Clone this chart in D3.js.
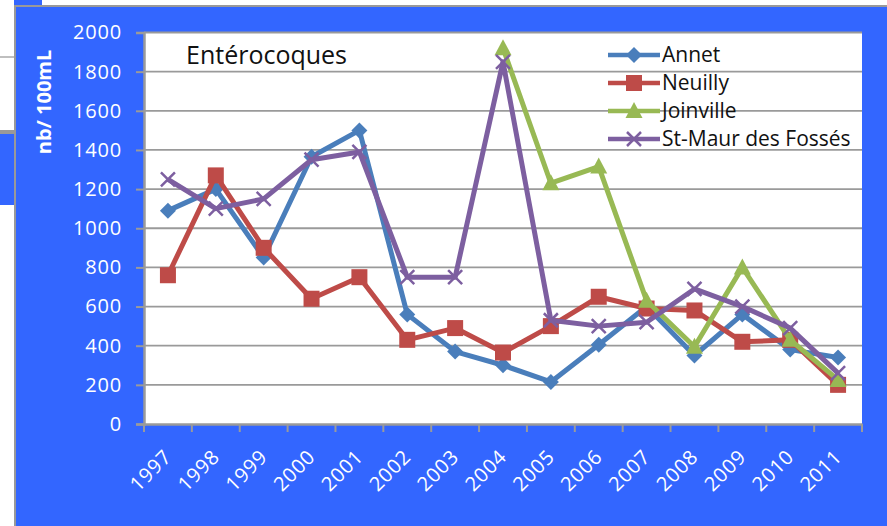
<!DOCTYPE html>
<html>
<head>
<meta charset="utf-8">
<script src="https://cdn.jsdelivr.net/npm/d3@7"></script>
<style>
    body { margin: 0; background: #fff; }
    svg { display: block; }
    text { font-family: "Open Sans", sans-serif; }
</style>
</head>
<body>
<svg id="chart" width="887" height="526"></svg>
<script>
// data
var years = ['1997', '1998', '1999', '2000', '2001', '2002', '2003', '2004',
    '2005', '2006', '2007', '2008', '2009', '2010', '2011'];
var annet = [1090, 1200, 850, 1365, 1500, 560, 370, 300, 215, 405, 600, 350, 560, 380, 340];
var neuilly = [760, 1270, 900, 640, 750, 430, 490, 365, 500, 650, 590, 580, 420, 430, 200];
var joinville = [null, null, null, null, null, null, null, 1920, 1230, 1315, 630, 395, 800, 430, 225];
var stMaur = [1250, 1100, 1150, 1350, 1390, 750, 750, 1850, 530, 500, 520, 690, 600, 490, 260];
var yTicks = [0, 200, 400, 600, 800, 1000, 1200, 1400, 1600, 1800, 2000];

var series = [
    {name: 'Annet', values: annet, color: '#4a7ebb', marker: 'diamond'},
    {name: 'Neuilly', values: neuilly, color: '#be4b48', marker: 'square'},
    {name: 'Joinville', values: joinville, color: '#98b954', marker: 'triangle'},
    {name: 'St-Maur des Fossés', values: stMaur, color: '#7d5fa0', marker: 'cross'}
];

var svg = d3.select('#chart');
var panelBlue = '#3366ff';
var gray = '#9a9a9a';

// bits of the surrounding sheet
svg.append('line').attr('x1', 0).attr('x2', 14).attr('y1', 57).attr('y2', 57)
    .attr('stroke', '#aaa').attr('stroke-width', 1.5);
svg.append('rect').attr('x', 0).attr('y', 130).attr('width', 14).attr('height', 4).attr('fill', '#999');
svg.append('rect').attr('x', 0).attr('y', 134).attr('width', 14).attr('height', 71).attr('fill', panelBlue);
svg.append('rect').attr('x', 14).attr('y', 0).attr('width', 28).attr('height', 6).attr('fill', panelBlue);
svg.append('rect').attr('x', 14).attr('y', 5).attr('width', 873).attr('height', 521).attr('fill', '#999');
svg.append('rect').attr('x', 16).attr('y', 7).attr('width', 871).attr('height', 519).attr('fill', panelBlue);

var plot = {left: 144, right: 862, top: 32.5, bottom: 424};

var x = d3.scaleBand().domain(years).range([plot.left, plot.right]);
var y = d3.scaleLinear().domain([0, 2000]).range([plot.bottom, plot.top]);

svg.append('rect')
    .attr('x', plot.left).attr('y', plot.top)
    .attr('width', plot.right - plot.left).attr('height', plot.bottom - plot.top)
    .attr('fill', '#fff');

// grid
svg.append('g').selectAll('line')
    .data(yTicks.slice(1))
    .join('line')
    .attr('x1', plot.left).attr('x2', plot.right)
    .attr('y1', d => y(d)).attr('y2', d => y(d))
    .attr('stroke', gray).attr('stroke-width', 1.8);

// y axis
var yAxis = d3.axisLeft(y).tickValues(yTicks).tickFormat(d3.format('d')).tickSize(8).tickPadding(14);
var gY = svg.append('g')
    .attr('transform', 'translate(' + plot.left + ',0)')
    .call(yAxis);
gY.select('.domain').attr('stroke', gray).attr('stroke-width', 2.5);
gY.selectAll('.tick line').attr('stroke', gray).attr('stroke-width', 2);
gY.selectAll('.tick text')
    .attr('fill', '#fff')
    .style('font-size', '20px')
    .style('letter-spacing', '0.8px');

// x axis
var xAxis = d3.axisBottom(x).tickSize(0).tickFormat('');
var gX = svg.append('g')
    .attr('transform', 'translate(0,' + plot.bottom + ')')
    .call(xAxis);
gX.select('.domain').attr('stroke', gray).attr('stroke-width', 2.5);
gX.selectAll('.tick').remove();

svg.append('g').selectAll('line')
    .data(years.concat(['end']))
    .join('line')
    .attr('x1', (d, i) => plot.left + i * x.step())
    .attr('x2', (d, i) => plot.left + i * x.step())
    .attr('y1', plot.bottom).attr('y2', plot.bottom + 8)
    .attr('stroke', gray).attr('stroke-width', 2);

svg.append('g').selectAll('text')
    .data(years)
    .join('text')
    .attr('transform', d => 'translate(' + (x(d) + x.bandwidth() / 2 + 5) + ',458) rotate(-45)')
    .attr('text-anchor', 'end')
    .attr('fill', '#fff')
    .style('font-size', '20px')
    .style('letter-spacing', '0.8px')
    .text(d => d);

// y title
svg.append('text')
    .attr('transform', 'translate(51,102) rotate(-90)')
    .attr('text-anchor', 'middle')
    .attr('fill', '#fff')
    .style('font-size', '20px')
    .style('font-weight', 'bold')
    .text('nb/ 100mL');

// chart title
svg.append('text')
    .attr('x', 186).attr('y', 64)
    .attr('fill', '#111')
    .style('font-size', '25px')
    .text('Entérocoques');

var cx = d => x(d) + x.bandwidth() / 2;

function drawMarker(g, type, color) {
    if (type === 'diamond') {
        g.append('path').attr('d', 'M0,-8L8,0L0,8L-8,0Z').attr('fill', color);
    } else if (type === 'square') {
        g.append('rect').attr('x', -8).attr('y', -8).attr('width', 16).attr('height', 16).attr('fill', color);
    } else if (type === 'triangle') {
        g.append('path').attr('d', 'M0,-9L8.5,7L-8.5,7Z').attr('fill', color);
    } else {
        g.append('path').attr('d', 'M-7,-7L7,7M-7,7L7,-7')
            .attr('stroke', color).attr('stroke-width', 2.5).attr('fill', 'none');
    }
}

var line = d3.line()
    .defined(d => d.v !== null)
    .x(d => cx(d.year))
    .y(d => y(d.v));

series.forEach(function(s) {
    var pts = years.map((yr, i) => ({year: yr, v: s.values[i]}));
    var g = svg.append('g');
    g.append('path')
        .datum(pts)
        .attr('d', line)
        .attr('fill', 'none')
        .attr('stroke', s.color)
        .attr('stroke-width', 5)
        .attr('stroke-linejoin', 'round');
    pts.filter(d => d.v !== null).forEach(function(d) {
        var m = g.append('g').attr('transform', 'translate(' + cx(d.year) + ',' + y(d.v) + ')');
        drawMarker(m, s.marker, s.color);
    });
});

// legend
var legend = svg.append('g');
series.forEach(function(s, i) {
    var ly = 55 + i * 28;
    var item = legend.append('g').attr('transform', 'translate(608,' + ly + ')');
    item.append('line').attr('x1', 0).attr('x2', 52)
        .attr('stroke', s.color).attr('stroke-width', 4.5);
    var m = item.append('g').attr('transform', 'translate(26,0)');
    drawMarker(m, s.marker, s.color);
    item.append('text')
        .attr('x', 54).attr('y', 0)
        .attr('dy', '0.35em')
        .attr('fill', '#111')
        .style('font-size', '21px')
        .text(s.name);
});
</script>
</body>
</html>
